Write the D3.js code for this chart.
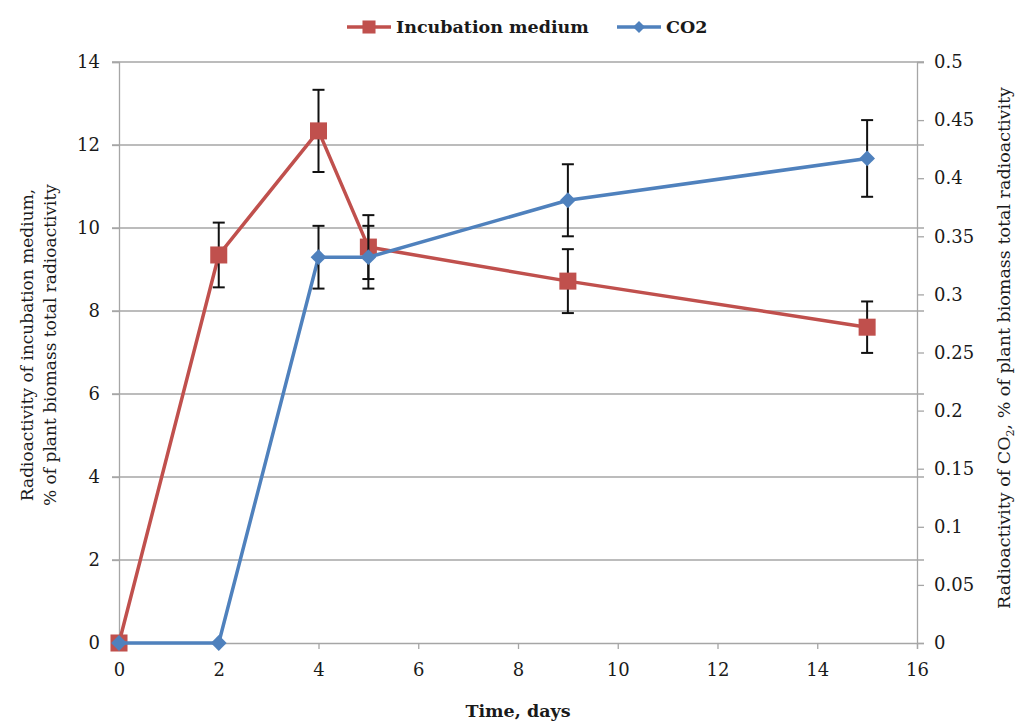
<!DOCTYPE html>
<html>
<head>
<meta charset="utf-8">
<script src="https://cdn.jsdelivr.net/npm/d3@7"></script>
<style>
  body { margin: 0; background: #fff; }
</style>
</head>
<body>
<div id="chart"></div>
<script>
// Data
const days = [0, 2, 4, 5, 9, 15]
const medium = [0, 9.35, 12.34, 9.54, 8.72, 7.61]
const mediumErr = [0, 0.78, 0.99, 0.77, 0.77, 0.62]
const co2 = [0, 0, 0.332, 0.332, 0.381, 0.417]
const co2Err = [0, 0, 0.027, 0.027, 0.031, 0.033]
const xTicks = [0, 2, 4, 6, 8, 10, 12, 14, 16]
const leftTicks = [0, 2, 4, 6, 8, 10, 12, 14]
const rightTicks = [0, 0.05, 0.1, 0.15, 0.2, 0.25, 0.3, 0.35, 0.4, 0.45, 0.5]

const red = '#c0504d'
const blue = '#4f81bd'
const serif = 'DejaVu Serif'

// Dimensions
const width = 1019, height = 724
const margin = { top: 62, right: 102, bottom: 81, left: 119 }

const svg = d3.select('#chart')
  .append('svg')
  .attr('width', width)
  .attr('height', height)
  .style('font-family', serif)

// Scales
const x = d3.scaleLinear().domain([0, 16]).range([margin.left, width - margin.right])
const yL = d3.scaleLinear().domain([0, 14]).range([height - margin.bottom, margin.top])
const yR = d3.scaleLinear().domain([0, 0.5]).range([height - margin.bottom, margin.top])

// Gridlines
svg.append('g')
  .selectAll('line')
  .data(leftTicks.filter(d => d > 0))
  .join('line')
  .attr('x1', x(0) - 7)
  .attr('x2', x(16) + 7)
  .attr('y1', d => yL(d))
  .attr('y2', d => yL(d))
  .attr('stroke', '#a6a6a6')
  .attr('stroke-width', 1.3)

// Axes
const styleAxis = g => {
  g.attr('font-family', null).style('font-family', serif)
  g.select('.domain').attr('stroke', '#a6a6a6').attr('stroke-width', 1.3)
  g.selectAll('.tick line').attr('stroke', '#a6a6a6').attr('stroke-width', 1.3)
  g.selectAll('.tick text')
    .attr('font-size', 18)
    .attr('fill', '#1a1a1a')
}

svg.append('g')
  .attr('transform', `translate(0,${yL(0)})`)
  .call(d3.axisBottom(x).tickValues(xTicks).tickSizeOuter(0).tickSize(6).tickPadding(14))
  .call(styleAxis)

svg.append('g')
  .attr('transform', `translate(${x(0)},0)`)
  .call(d3.axisLeft(yL).tickValues(leftTicks).tickSizeOuter(0).tickSize(7).tickPadding(12))
  .call(styleAxis)

svg.append('g')
  .attr('transform', `translate(${x(16)},0)`)
  .call(d3.axisRight(yR).tickValues(rightTicks).tickFormat(d3.format('~g')).tickSizeOuter(0).tickSize(7).tickPadding(10))
  .call(styleAxis)

// Series
const series = [
  { values: medium, err: mediumErr, y: yL, color: red, sym: d3.symbol(d3.symbolSquare, 290), rot: 0 },
  { values: co2, err: co2Err, y: yR, color: blue, sym: d3.symbol(d3.symbolSquare, 125), rot: 45 },
]

series.forEach(s => {
  const pts = days.map((d, i) => ({ d, v: s.values[i], e: s.err[i] }))
  const g = svg.append('g')

  g.append('path')
    .datum(pts)
    .attr('fill', 'none')
    .attr('stroke', s.color)
    .attr('stroke-width', 3.5)
    .attr('stroke-linejoin', 'round')
    .attr('d', d3.line().x(p => x(p.d)).y(p => s.y(p.v)))

  const bars = g.append('g').attr('stroke', '#111').attr('stroke-width', 2)
  const withErr = pts.filter(p => p.e > 0)
  bars.selectAll('.v').data(withErr).join('line')
    .attr('x1', p => x(p.d)).attr('x2', p => x(p.d))
    .attr('y1', p => s.y(p.v + p.e)).attr('y2', p => s.y(p.v - p.e))
  bars.selectAll('.t').data(withErr).join('line')
    .attr('x1', p => x(p.d) - 6).attr('x2', p => x(p.d) + 6)
    .attr('y1', p => s.y(p.v + p.e)).attr('y2', p => s.y(p.v + p.e))
  bars.selectAll('.b').data(withErr).join('line')
    .attr('x1', p => x(p.d) - 6).attr('x2', p => x(p.d) + 6)
    .attr('y1', p => s.y(p.v - p.e)).attr('y2', p => s.y(p.v - p.e))

  g.selectAll('.m').data(pts).join('path')
    .attr('transform', p => `translate(${x(p.d)},${s.y(p.v)}) rotate(${s.rot})`)
    .attr('d', s.sym)
    .attr('fill', s.color)
})

// Axis titles
svg.append('text')
  .attr('transform', `translate(${33},${345}) rotate(-90)`)
  .attr('text-anchor', 'middle')
  .attr('font-size', 17)
  .attr('fill', '#1a1a1a')
  .text('Radioactivity of incubation medium,')
svg.append('text')
  .attr('transform', `translate(${56},${345}) rotate(-90)`)
  .attr('text-anchor', 'middle')
  .attr('font-size', 17)
  .attr('fill', '#1a1a1a')
  .text('% of plant biomass total radioactivity')

const rt = svg.append('text')
  .attr('transform', `translate(${1010},${348}) rotate(-90)`)
  .attr('text-anchor', 'middle')
  .attr('font-size', 17.5)
  .attr('fill', '#1a1a1a')
rt.append('tspan').text('Radioactivity of CO')
rt.append('tspan').attr('font-size', 11).attr('dy', 4).text('2')
rt.append('tspan').attr('dy', -4).text(', % of plant biomass total radioactivity')

svg.append('text')
  .attr('x', (x(0) + x(16)) / 2)
  .attr('y', 717)
  .attr('text-anchor', 'middle')
  .attr('font-size', 17.5)
  .attr('font-weight', 'bold')
  .attr('fill', '#1a1a1a')
  .text('Time, days')

// Legend
const legendItems = [
  { name: 'Incubation medium', color: red, shape: d3.symbol(d3.symbolSquare, 170), rot: 0, x: 347 },
  { name: 'CO2', color: blue, shape: d3.symbol(d3.symbolSquare, 72), rot: 45, x: 617 },
]
const lg = svg.append('g').selectAll('g').data(legendItems).join('g')
  .attr('transform', d => `translate(${d.x},27)`)
lg.append('line')
  .attr('x1', 0).attr('x2', 44)
  .attr('stroke', d => d.color).attr('stroke-width', 3.5)
lg.append('path')
  .attr('transform', d => `translate(22,0) rotate(${d.rot})`)
  .attr('d', d => d.shape())
  .attr('fill', d => d.color)
lg.append('text')
  .attr('x', 49).attr('y', 6)
  .attr('font-size', 17.5)
  .attr('font-weight', 'bold')
  .attr('fill', '#1a1a1a')
  .text(d => d.name)
</script>
</body>
</html>
